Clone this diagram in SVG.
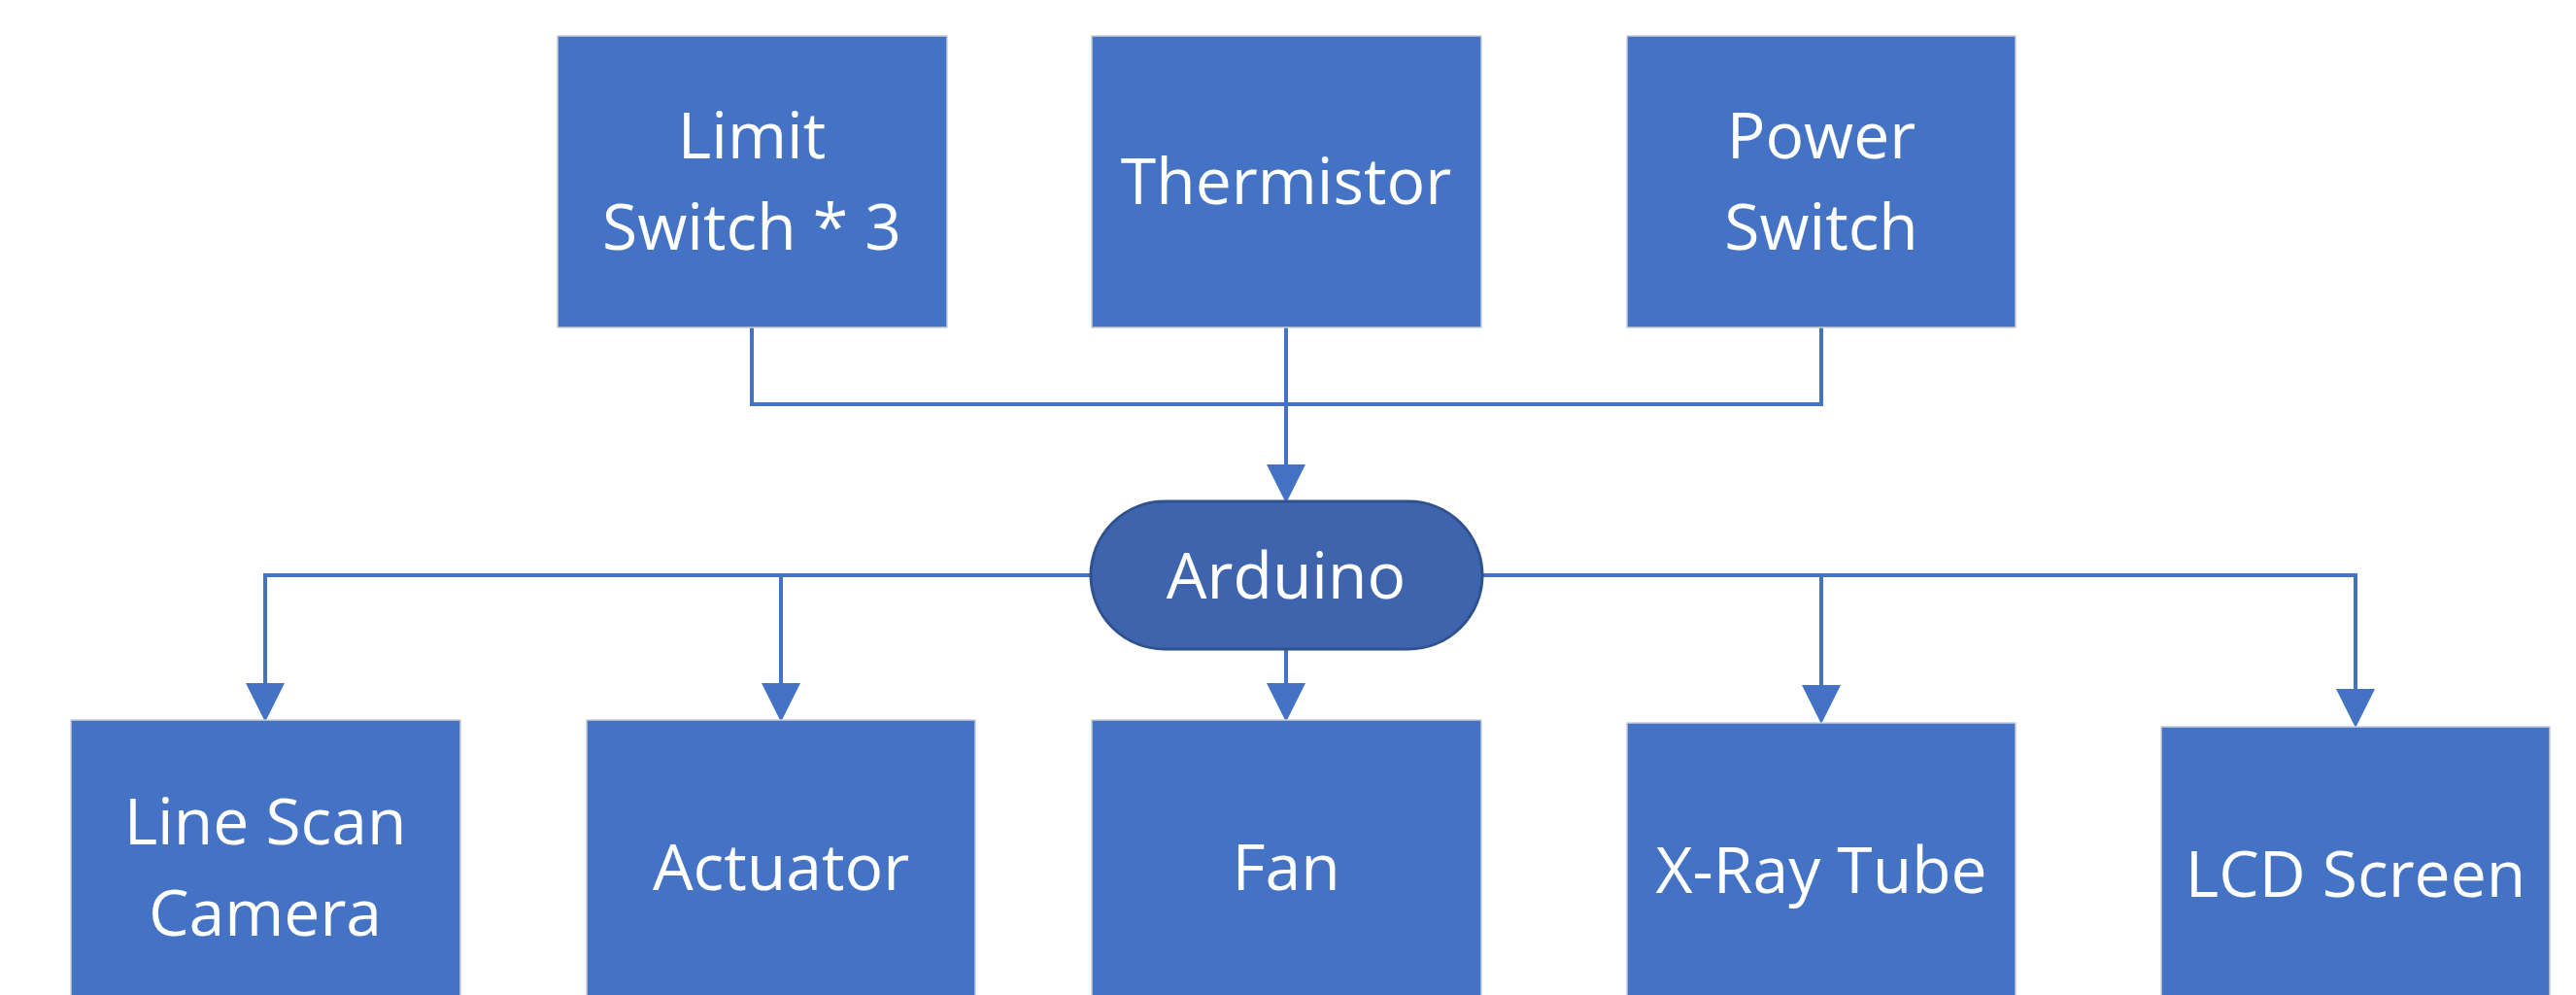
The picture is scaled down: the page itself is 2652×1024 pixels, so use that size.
<svg xmlns="http://www.w3.org/2000/svg" width="2652" height="1024" viewBox="0 0 2652 1024">
<style>
.box{fill:#4472C4;stroke:#C9CDD6;stroke-width:1.5}
.pill{fill:#3E64AD;stroke:#2F528F;stroke-width:3}
.lbl{font-family:"Open Sans","Noto Sans",sans-serif;font-size:66px;fill:#FFFFFF;text-anchor:middle}
.wire{fill:none;stroke:#4472C4;stroke-width:4}
</style>
<defs>
<marker id="arr" markerUnits="userSpaceOnUse" markerWidth="40" markerHeight="40" viewBox="0 0 38 38" refX="0" refY="19" orient="auto">
<path d="M0,0 L38,19 L0,38 Z" fill="#4472C4"/>
</marker>
</defs>
<rect width="2652" height="1024" fill="#FFFFFF"/>
<g id="connectors">
<path class="wire" d="M774,337 V416 H1875 V337"/>
<path class="wire" d="M1324,337 V478" marker-end="url(#arr)"/>
<path class="wire" d="M1123,592 H273 V703" marker-end="url(#arr)"/>
<path class="wire" d="M804,592 V703" marker-end="url(#arr)"/>
<path class="wire" d="M1324,668 V703" marker-end="url(#arr)"/>
<path class="wire" d="M1526,592 H2425 V709" marker-end="url(#arr)"/>
<path class="wire" d="M1875,592 V705" marker-end="url(#arr)"/>
</g>
<g id="limit-switch">
<rect class="box" x="574" y="37" width="401" height="300"/>
<text class="lbl" x="774" y="163">Limit</text>
<text class="lbl" x="774" y="257">Switch * 3</text>
</g>
<g id="thermistor">
<rect class="box" x="1124" y="37" width="401" height="300"/>
<text class="lbl" x="1324" y="210">Thermistor</text>
</g>
<g id="power-switch">
<rect class="box" x="1675" y="37" width="400" height="300"/>
<text class="lbl" x="1875" y="163">Power</text>
<text class="lbl" x="1875" y="257">Switch</text>
</g>
<g id="arduino">
<rect class="pill" x="1123" y="516" width="403" height="152" rx="76" ry="76"/>
<text class="lbl" x="1324" y="616">Arduino</text>
</g>
<g id="line-scan-camera">
<rect class="box" x="73" y="741" width="401" height="300"/>
<text class="lbl" x="273" y="869">Line Scan</text>
<text class="lbl" x="273" y="963">Camera</text>
</g>
<g id="actuator">
<rect class="box" x="604" y="741" width="400" height="300"/>
<text class="lbl" x="804" y="916">Actuator</text>
</g>
<g id="fan">
<rect class="box" x="1124" y="741" width="401" height="300"/>
<text class="lbl" x="1324" y="916">Fan</text>
</g>
<g id="x-ray-tube">
<rect class="box" x="1675" y="744" width="400" height="300"/>
<text class="lbl" x="1875" y="919">X-Ray Tube</text>
</g>
<g id="lcd-screen">
<rect class="box" x="2225" y="748" width="400" height="300"/>
<text class="lbl" x="2425" y="923">LCD Screen</text>
</g>
</svg>
